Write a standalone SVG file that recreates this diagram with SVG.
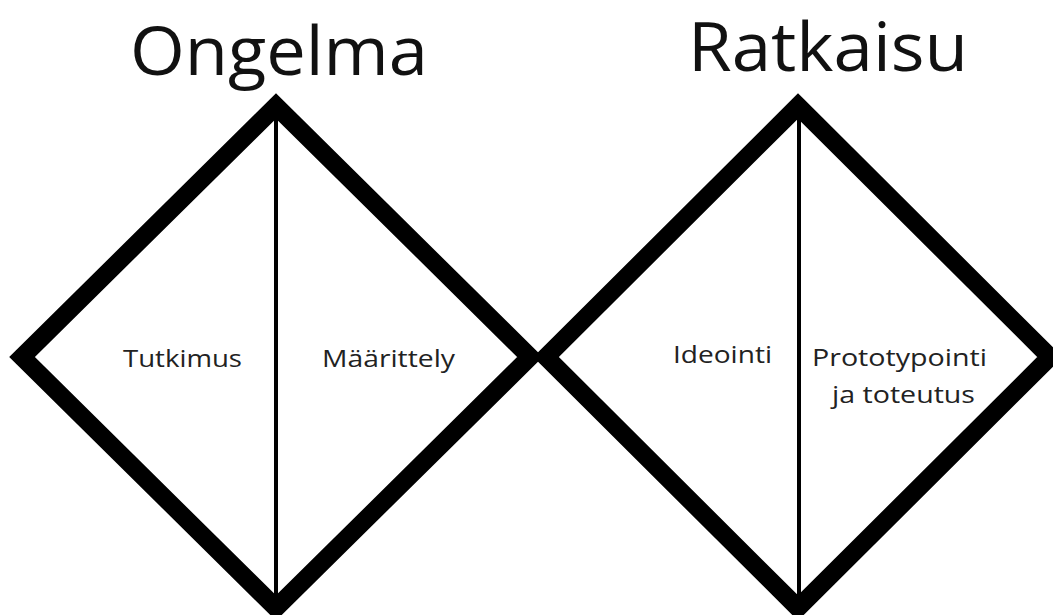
<svg xmlns="http://www.w3.org/2000/svg" width="1053" height="615" viewBox="0 0 1053 615">
  <style>
    .diamond { fill: none; stroke: #000; stroke-width: 18; stroke-linejoin: miter; stroke-miterlimit: 10; }
    .divider { stroke: #000; stroke-width: 4; }
    .title { font-family: "Open Sans", "Noto Sans", sans-serif; font-size: 68px; fill: #111; text-anchor: middle; }
    .label { font-family: "Open Sans", "Noto Sans", sans-serif; font-size: 24.5px; fill: #222; text-anchor: middle; }
  </style>
  <rect width="1053" height="615" fill="#fff"/>
  <g id="ongelma">
    <polygon class="diamond" points="276,106 530,357 276,608 22,357"/>
    <line class="divider" x1="276" y1="106" x2="276" y2="608"/>
    <text class="title" x="279" y="75" textLength="298" lengthAdjust="spacingAndGlyphs">Ongelma</text>
    <text class="label" x="182.5" y="367" textLength="119" lengthAdjust="spacingAndGlyphs">Tutkimus</text>
    <text class="label" x="388.5" y="367" textLength="133" lengthAdjust="spacingAndGlyphs">Määrittely</text>
  </g>
  <g id="ratkaisu">
    <polygon class="diamond" points="798,106 1050,357 798,608 546,357"/>
    <line class="divider" x1="799" y1="106" x2="799" y2="608"/>
    <text class="title" x="828" y="71" textLength="280" lengthAdjust="spacingAndGlyphs">Ratkaisu</text>
    <text class="label" x="722.5" y="363" textLength="99" lengthAdjust="spacingAndGlyphs">Ideointi</text>
    <text class="label" x="899.5" y="366" textLength="175" lengthAdjust="spacingAndGlyphs">Prototypointi</text>
    <text class="label" x="903.5" y="403" textLength="143" lengthAdjust="spacingAndGlyphs">ja toteutus</text>
  </g>
  <g id="connectors"></g>
</svg>
